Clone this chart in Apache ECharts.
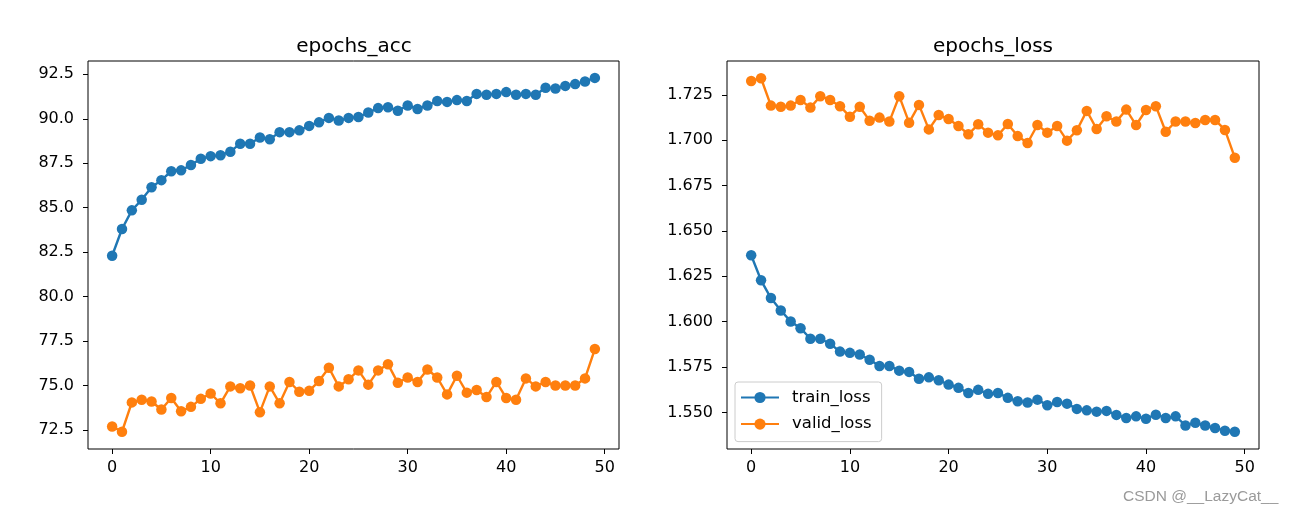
<!DOCTYPE html>
<html>
<head>
<meta charset="utf-8">
<script src="https://cdn.jsdelivr.net/npm/echarts@6/dist/echarts.min.js"></script>
<style>
html,body{margin:0;padding:0;background:#fff;}
#chart{width:1295px;height:514px;}
</style>
</head>
<body>
<div id="chart"></div>
<script>
// ---- data ----
const epochs = [0,1,2,3,4,5,6,7,8,9,10,11,12,13,14,15,16,17,18,19,20,21,22,23,24,25,26,27,28,29,30,31,32,33,34,35,36,37,38,39,40,41,42,43,44,45,46,47,48,49];
const trainAcc = [82.3, 83.8, 84.85, 85.45, 86.15, 86.55, 87.05, 87.1, 87.4, 87.75, 87.9, 87.95, 88.15, 88.6, 88.6, 88.95, 88.85, 89.25, 89.25, 89.35, 89.6, 89.8, 90.05, 89.9, 90.05, 90.1, 90.35, 90.6, 90.65, 90.45, 90.75, 90.55, 90.75, 91.0, 90.95, 91.05, 91.0, 91.4, 91.35, 91.4, 91.5, 91.35, 91.4, 91.35, 91.75, 91.7, 91.85, 91.95, 92.1, 92.3];
const validAcc = [72.7, 72.4, 74.05, 74.2, 74.1, 73.65, 74.3, 73.55, 73.8, 74.25, 74.55, 74.0, 74.95, 74.85, 75.0, 73.5, 74.95, 74.0, 75.2, 74.65, 74.7, 75.25, 76.0, 74.95, 75.35, 75.85, 75.05, 75.85, 76.2, 75.15, 75.45, 75.2, 75.9, 75.45, 74.5, 75.55, 74.6, 74.75, 74.35, 75.2, 74.3, 74.2, 75.4, 74.95, 75.2, 75.0, 75.0, 75.0, 75.4, 77.05];
const trainLoss = [1.6366, 1.6228, 1.6130, 1.6062, 1.6001, 1.5964, 1.5906, 1.5906, 1.5878, 1.5835, 1.5828, 1.5819, 1.5790, 1.5756, 1.5756, 1.5730, 1.5723, 1.5685, 1.5693, 1.5677, 1.5653, 1.5635, 1.5607, 1.5624, 1.5602, 1.5607, 1.5580, 1.5561, 1.5554, 1.5570, 1.5539, 1.5557, 1.5548, 1.5519, 1.5511, 1.5504, 1.5508, 1.5486, 1.5469, 1.5478, 1.5465, 1.5487, 1.5469, 1.5478, 1.5428, 1.5443, 1.5428, 1.5414, 1.5399, 1.5393];
const validLoss = [1.7327, 1.7342, 1.7191, 1.7185, 1.7191, 1.7222, 1.7180, 1.7243, 1.7222, 1.7188, 1.7130, 1.7185, 1.7108, 1.7125, 1.7103, 1.7243, 1.7097, 1.7195, 1.7060, 1.7139, 1.7117, 1.7079, 1.7033, 1.7088, 1.7042, 1.7027, 1.7090, 1.7023, 1.6985, 1.7084, 1.7042, 1.7079, 1.6998, 1.7055, 1.7162, 1.7062, 1.7132, 1.7103, 1.7169, 1.7084, 1.7167, 1.7188, 1.7047, 1.7103, 1.7103, 1.7095, 1.7112, 1.7112, 1.7057, 1.6904];
const epochTicks = [0, 10, 20, 30, 40, 50];
const accTicks = [72.5, 75.0, 77.5, 80.0, 82.5, 85.0, 87.5, 90.0, 92.5];
const lossTicks = [1.550, 1.575, 1.600, 1.625, 1.650, 1.675, 1.700, 1.725];
const titles = ['epochs_acc', 'epochs_loss'];
const watermark = 'CSDN @__LazyCat__';

const pairs = (ys) => ys.map((v, i) => [epochs[i], v]);
const FONT = 'DejaVu Sans';
const BLUE = '#1f77b4', ORANGE = '#ff7f0e';

function xAxis(gi) {
  return {
    type: 'value', gridIndex: gi, min: -2.45, max: 51.45,
    splitLine: { show: false },
    axisLine: { show: false, onZero: false },
    axisTick: { show: true, length: 5, lineStyle: { color: '#000', width: 1 }, customValues: epochTicks },
    axisLabel: { customValues: epochTicks, margin: 11, color: '#000', fontFamily: FONT, fontSize: 16 }
  };
}
function yAxis(gi, min, max, ticks, dec) {
  return {
    type: 'value', gridIndex: gi, min: min, max: max,
    splitLine: { show: false },
    axisLine: { show: false, onZero: false },
    axisTick: { show: true, length: 5, lineStyle: { color: '#000', width: 1 }, customValues: ticks },
    axisLabel: { customValues: ticks, margin: 14, color: '#000', fontFamily: FONT, fontSize: 16,
      formatter: (v) => Number(v).toFixed(dec) }
  };
}
function line(name, data, color, xi, yi) {
  return {
    name: name, type: 'line', xAxisIndex: xi, yAxisIndex: yi, data: pairs(data),
    symbol: 'circle', symbolSize: 10.5, showSymbol: true,
    lineStyle: { color: color, width: 2.4 }, itemStyle: { color: color },
    emphasis: { disabled: true }
  };
}

const chart = echarts.init(document.getElementById('chart'), null, { renderer: 'canvas' });
chart.setOption({
  animation: false,
  backgroundColor: '#fff',
  title: [
    { text: titles[0], left: 349, top: 32, textAlign: 'center',
      textStyle: { fontFamily: FONT, fontSize: 20, fontWeight: 'normal', color: '#000' } },
    { text: titles[1], left: 988, top: 32, textAlign: 'center',
      textStyle: { fontFamily: FONT, fontSize: 20, fontWeight: 'normal', color: '#000' } }
  ],
  grid: [
    { left: 88, top: 61, width: 531, height: 388, show: true, borderColor: '#000', borderWidth: 1, backgroundColor: 'transparent' },
    { left: 727, top: 61, width: 532, height: 388, show: true, borderColor: '#000', borderWidth: 1, backgroundColor: 'transparent' }
  ],
  xAxis: [xAxis(0), xAxis(1)],
  yAxis: [yAxis(0, 71.43, 93.25, accTicks, 1), yAxis(1, 1.5298, 1.7437, lossTicks, 3)],
  legend: {
    data: ['train_loss', 'valid_loss'],
    orient: 'vertical', left: 735, top: 382,
    itemWidth: 38, itemHeight: 14, itemGap: 9.6,
    padding: [7, 10, 9, 5],
    backgroundColor: 'rgba(255,255,255,0.8)', borderColor: '#cccccc', borderWidth: 1, borderRadius: 3,
    textStyle: { fontFamily: FONT, fontSize: 16.5, color: '#000', padding: [0, 0, 0, 8] },
    selectedMode: false
  },
  graphic: [
    { type: 'text', left: 1123, top: 489, silent: true,
      style: { text: watermark, fontFamily: 'Liberation Sans', fontSize: 15.5, fill: '#9a9a9a' } }
  ],
  series: [
    line('train_acc', trainAcc, BLUE, 0, 0),
    line('valid_acc', validAcc, ORANGE, 0, 0),
    line('train_loss', trainLoss, BLUE, 1, 1),
    line('valid_loss', validLoss, ORANGE, 1, 1)
  ]
});
</script>
</body>
</html>
